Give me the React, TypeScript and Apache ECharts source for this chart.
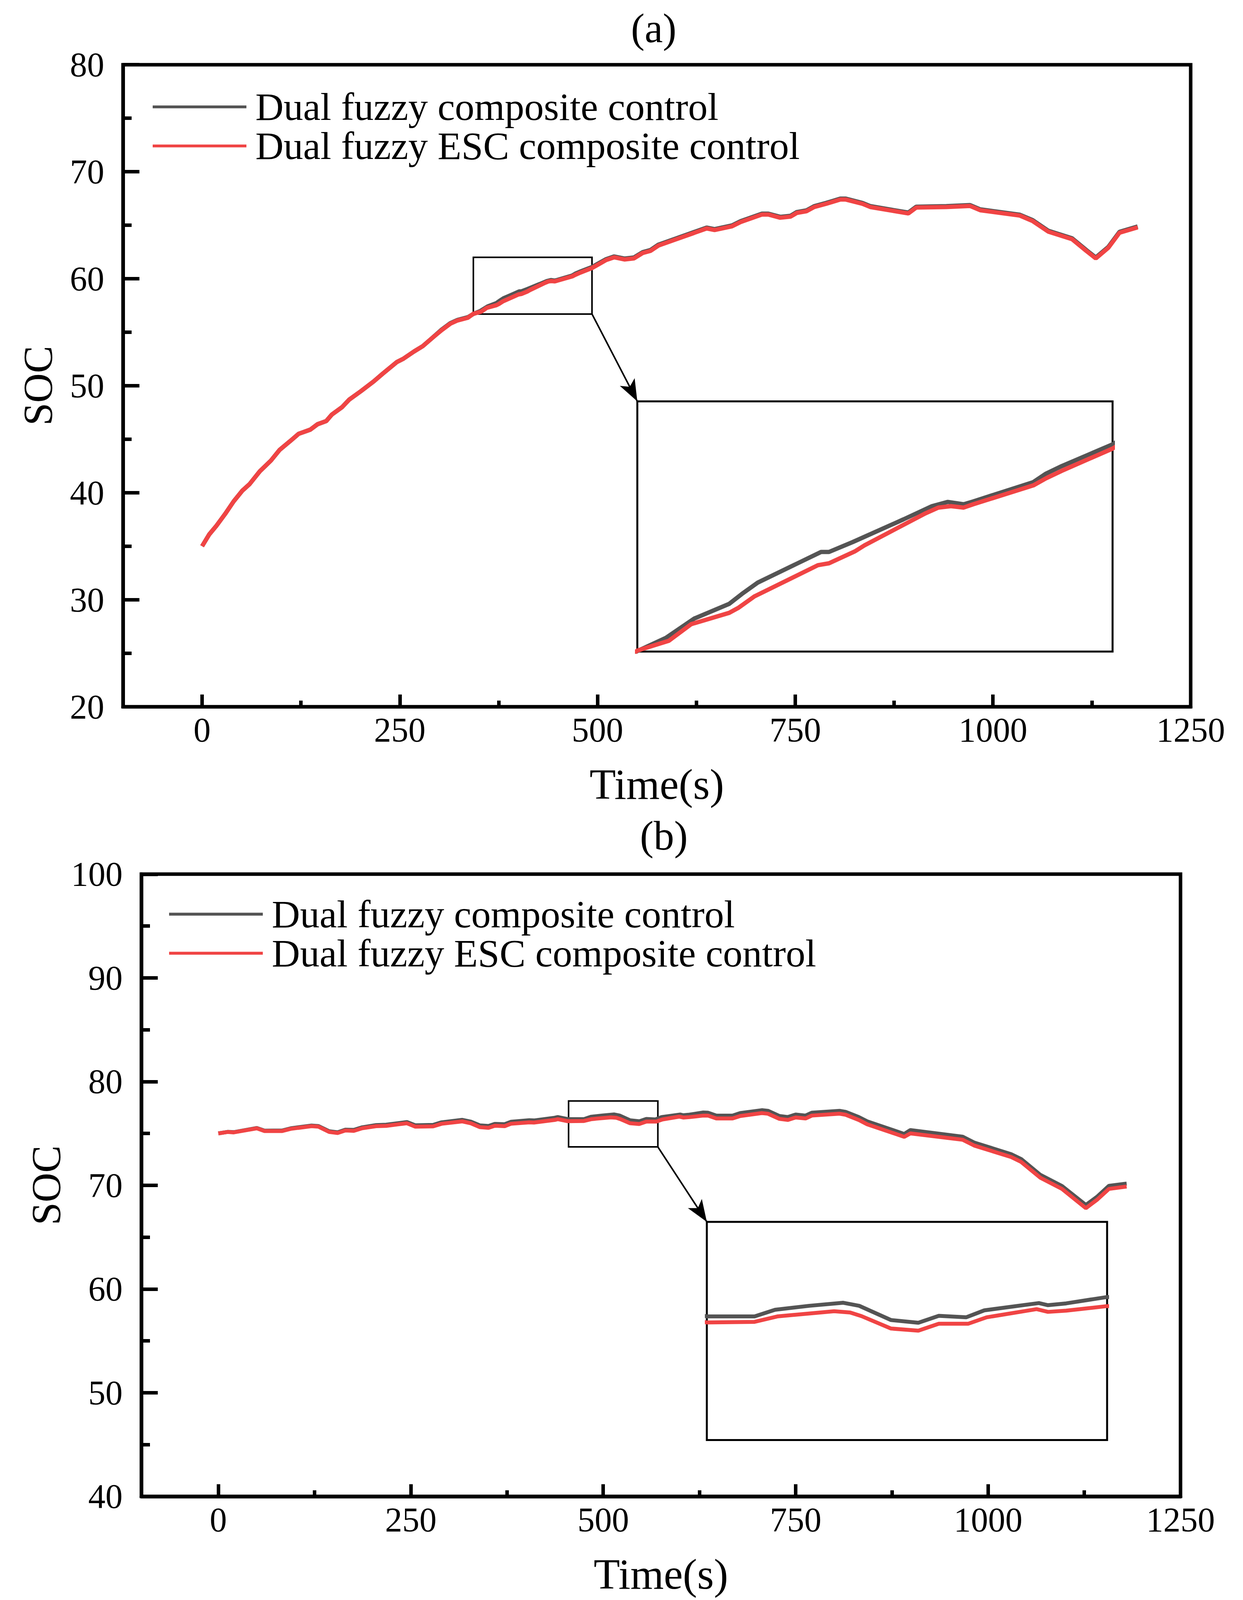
import * as echarts from "echarts";
import { useEffect, useRef } from "react";

// reference size; the layout below is written in these pixels and scaled to the viewport
const WIDTH = 3183;
const HEIGHT = 5513;
const FONT = "'Liberation Serif', 'Times New Roman', serif";

const DUAL_NAME = "Dual fuzzy composite control";
const ESC_NAME = "Dual fuzzy ESC composite control";
const DUAL_COLOR = "#545454";
const ESC_COLOR = "#f04444";

const xTicks = [0, 250, 500, 750, 1000, 1250];
const xMajorTicks = [0, 250, 500, 750, 1000];
const xMinorTicks = [125, 375, 625, 875, 1125];

// (a) time(s), SOC
const socAEsc: [number, number][] = [
  [0, 35.0], [9, 36.1], [18, 36.9], [29, 38.0], [40, 39.2], [51, 40.2], [60, 40.8], [73, 42.0],
  [87, 43.0], [98, 44.0], [111, 44.8], [122, 45.5], [137, 45.9], [146, 46.4], [157, 46.7], [164, 47.3],
  [177, 48.0], [186, 48.7], [201, 49.5], [217, 50.4], [228, 51.1], [246, 52.2], [254, 52.5], [268, 53.2],
  [279, 53.7], [290, 54.4], [303, 55.2], [314, 55.8], [323, 56.1], [336, 56.35], [343, 56.72], [353, 56.93],
  [360, 57.28], [372, 57.52], [375, 57.63], [380, 57.87], [400, 58.53], [403.5, 58.57], [411.6, 58.82],
  [414.7, 58.95], [434, 59.63], [438, 59.75], [442, 59.78], [446, 59.75], [449, 59.82], [468, 60.22],
  [472, 60.37], [477, 60.53], [493, 61.0], [511, 61.75], [521, 62.0], [534, 61.8], [546, 61.9], [557, 62.4],
  [567, 62.6], [577, 63.1], [600, 63.7], [638, 64.7], [648, 64.55], [670, 64.9], [681, 65.3], [708, 66.0],
  [716, 66.0], [731, 65.7], [744, 65.8], [752, 66.15], [764, 66.3], [774, 66.7], [789, 67.0], [807, 67.4],
  [814, 67.4], [835, 67.0], [845, 66.7], [893, 66.1], [903, 66.65], [941, 66.7], [971, 66.8], [984, 66.4],
  [1034, 65.9], [1050, 65.4], [1070, 64.4], [1100, 63.7], [1118, 62.6], [1130, 61.9], [1146, 62.9],
  [1160, 64.3], [1183, 64.8]
];

const socADual: [number, number][] = [
  [0, 35.0], [9, 36.1], [18, 36.9], [29, 38.0], [40, 39.2], [51, 40.2], [60, 40.8], [73, 42.0],
  [87, 43.0], [98, 44.0], [111, 44.8], [122, 45.5], [137, 45.9], [146, 46.4], [157, 46.7], [164, 47.3],
  [177, 48.0], [186, 48.7], [201, 49.5], [217, 50.4], [228, 51.1], [246, 52.2], [254, 52.5], [268, 53.2],
  [279, 53.7], [290, 54.4], [303, 55.25], [314, 55.85], [323, 56.15], [336, 56.4], [343, 56.71], [352, 56.99],
  [361, 57.4], [372, 57.71], [376, 57.92], [381, 58.16], [393, 58.55], [401, 58.81], [403.5, 58.81],
  [411, 59.02], [415, 59.14], [427, 59.5], [436, 59.78], [441, 59.87], [446, 59.82], [449, 59.88],
  [468, 60.29], [472, 60.47], [477, 60.63], [493, 61.09], [511, 61.83], [521, 62.08], [534, 61.88],
  [546, 61.98], [557, 62.48], [567, 62.68], [577, 63.18], [600, 63.78], [638, 64.78], [648, 64.63],
  [670, 64.98], [681, 65.38], [708, 66.08], [716, 66.08], [731, 65.78], [744, 65.88], [752, 66.23],
  [764, 66.38], [774, 66.78], [789, 67.08], [807, 67.48], [814, 67.48], [835, 67.08], [845, 66.78],
  [893, 66.18], [903, 66.73], [941, 66.78], [971, 66.88], [984, 66.48], [1034, 65.98], [1050, 65.48],
  [1070, 64.48], [1100, 63.78], [1118, 62.68], [1130, 61.98], [1146, 62.98], [1160, 64.38], [1183, 64.88]
];

// (b) time(s), SOC
const socBEsc: [number, number][] = [
  [0, 75.0], [12, 75.14], [20, 75.1], [50, 75.49], [60, 75.23], [83, 75.23], [94, 75.44], [121, 75.7],
  [130, 75.65], [144, 75.14], [155, 75.04], [165, 75.28], [176, 75.25], [187, 75.5], [205, 75.7],
  [218, 75.73], [245, 75.98], [256, 75.65], [279, 75.68], [290, 75.93], [317, 76.16], [328, 75.98],
  [340, 75.6], [351, 75.54], [359, 75.74], [372, 75.7], [380, 75.93], [404, 76.07], [410, 76.05],
  [437, 76.3], [441, 76.37], [454, 76.18], [475, 76.2], [485, 76.38], [510, 76.55], [517, 76.51],
  [522, 76.39], [535, 75.98], [547, 75.91], [556, 76.14], [569, 76.14], [577, 76.35], [599, 76.62],
  [604, 76.53], [612, 76.57], [630, 76.72], [636, 76.72], [647, 76.44], [668, 76.44], [678, 76.68],
  [706, 76.96], [714, 76.9], [729, 76.4], [740, 76.3], [750, 76.54], [763, 76.44], [771, 76.72],
  [807, 76.9], [815, 76.8], [832, 76.3], [843, 75.88], [891, 74.67], [899, 75.0], [967, 74.39],
  [982, 73.83], [1030, 72.72], [1043, 72.25], [1068, 70.72], [1096, 69.65], [1127, 67.79], [1142, 68.63],
  [1157, 69.65], [1180, 69.88]
];

const socBDual: [number, number][] = [
  [0, 75.0], [12, 75.15], [20, 75.12], [50, 75.52], [60, 75.27], [83, 75.28], [94, 75.49], [121, 75.76],
  [130, 75.71], [144, 75.21], [155, 75.11], [165, 75.36], [176, 75.34], [187, 75.59], [205, 75.8],
  [218, 75.84], [245, 76.1], [256, 75.78], [279, 75.82], [290, 76.07], [317, 76.31], [328, 76.14],
  [340, 75.77], [351, 75.72], [359, 75.92], [372, 75.89], [380, 76.12], [404, 76.27], [410, 76.25],
  [437, 76.51], [441, 76.58], [454, 76.38], [475, 76.38], [484, 76.6], [499, 76.73], [514, 76.83],
  [521, 76.73], [535, 76.26], [547, 76.17], [556, 76.4], [568, 76.35], [576, 76.58], [600, 76.82],
  [604, 76.75], [612, 76.81], [630, 77.02], [636, 77.0], [647, 76.72], [668, 76.72], [678, 76.96],
  [706, 77.24], [714, 77.18], [729, 76.68], [740, 76.58], [750, 76.82], [763, 76.72], [771, 77.0],
  [807, 77.18], [815, 77.08], [832, 76.58], [843, 76.16], [891, 74.95], [899, 75.32], [967, 74.68],
  [982, 74.12], [1030, 73.0], [1043, 72.53], [1068, 71.0], [1096, 69.93], [1127, 68.1], [1142, 68.92],
  [1157, 69.95], [1180, 70.16]
];

// zoom windows: the small box drawn on the main plot, and the range shown in the inset
const zoomBoxA = { x: [343, 493], y: [56.7, 62.0] };
const insetRangeA = { x: [343, 493], y: [56.7, 62.0] };
const zoomBoxB = { x: [455, 571], y: [73.7, 78.13] };
const insetRangeB = { x: [454, 630], y: [72.3, 79.5] };

const panels = [
  {
    title: "(a)", titleX: 1674, titleY: 98,
    grid: { left: 315, top: 223, width: 2734, height: 2212 },
    x: [-100, 1250], y: [20, 80],
    inset: { left: 1632, top: 1383, width: 1217, height: 862 },
    legend: { left: 391, top: 315, step: 128 },
    dual: socADual, esc: socAEsc, box: zoomBoxA, range: insetRangeA, lineWidth: 11
  },
  {
    title: "(b)", titleX: 1700, titleY: 2880,
    grid: { left: 362, top: 3012, width: 2661, height: 2144 },
    x: [-100, 1250], y: [40, 100],
    inset: { left: 1810, top: 4210, width: 1025, height: 752 },
    legend: { left: 433, top: 3095, step: 125 },
    dual: socBDual, esc: socBEsc, box: zoomBoxB, range: insetRangeB, lineWidth: 10
  }
];

function pxToData(p: (typeof panels)[number], px: number, py: number): [number, number] {
  const g = p.grid;
  const x = p.x[0] + ((px - g.left) / g.width) * (p.x[1] - p.x[0]);
  const y = p.y[1] - ((py - g.top) / g.height) * (p.y[1] - p.y[0]);
  return [x, y];
}

function buildOption(width: number, height: number) {
  const sx = width / WIDTH;
  const sy = height / HEIGHT;
  const X = (v: number) => v * sx;
  const Y = (v: number) => v * sy;
  // text widths follow the horizontal scale
  const F = (v: number) => Math.round(v * sx);

  const grid: any[] = [];
  const xAxis: any[] = [];
  const yAxis: any[] = [];
  const series: any[] = [];
  const legend: any[] = [];
  const graphic: any[] = [];
  const tickFont = F(88);
  const axisText = { fontFamily: FONT, fontSize: tickFont, color: "#000", formatter: (v: number) => String(v) };
  const axisWidth = 9;

  panels.forEach((p) => {
    const mainGrid = grid.length;
    grid.push({
      left: X(p.grid.left), top: Y(p.grid.top), width: X(p.grid.width), height: Y(p.grid.height),
      show: true, borderColor: "#000", borderWidth: axisWidth, backgroundColor: "transparent"
    });
    const insetGrid = grid.length;
    grid.push({
      left: X(p.inset.left), top: Y(p.inset.top), width: X(p.inset.width), height: Y(p.inset.height),
      show: true, borderColor: "#000", borderWidth: 5, backgroundColor: "#fff", z: 3
    });

    const mainX = xAxis.length;
    const nameFont = F(110);
    xAxis.push({
      type: "value", gridIndex: mainGrid, position: "bottom", min: p.x[0], max: p.x[1],
      name: "Time(s)", nameLocation: "middle", nameGap: Y(268) - nameFont / 2,
      nameTextStyle: { fontFamily: FONT, fontSize: nameFont, color: "#000" },
      axisLine: { show: true, onZero: false, lineStyle: { color: "#000", width: axisWidth } },
      axisTick: { show: true, inside: true, length: Y(42), customValues: xMajorTicks, lineStyle: { color: "#000", width: axisWidth } },
      axisLabel: { ...axisText, margin: Math.max(8, Y(80) - tickFont / 2), customValues: xTicks },
      splitLine: { show: false }
    });
    xAxis.push({
      type: "value", gridIndex: mainGrid, position: "bottom", min: p.x[0], max: p.x[1],
      axisLine: { show: false, onZero: false },
      axisTick: { show: true, inside: true, length: Y(21), customValues: xMinorTicks, lineStyle: { color: "#000", width: axisWidth } },
      axisLabel: { show: false, customValues: xMinorTicks },
      splitLine: { show: false }
    });
    const insetX = xAxis.length;
    xAxis.push({ type: "value", gridIndex: insetGrid, min: p.range.x[0], max: p.range.x[1], show: false, splitLine: { show: false } });

    const mainY = yAxis.length;
    yAxis.push({
      type: "value", gridIndex: mainGrid, position: "left", min: p.y[0], max: p.y[1], interval: 10,
      name: "SOC", nameLocation: "middle", nameGap: X(165),
      nameTextStyle: { fontFamily: FONT, fontSize: F(105), color: "#000" },
      axisLine: { show: true, onZero: false, lineStyle: { color: "#000", width: axisWidth } },
      axisTick: { show: true, inside: true, length: X(42), lineStyle: { color: "#000", width: axisWidth } },
      minorTick: { show: true, splitNumber: 2, length: X(22), lineStyle: { color: "#000", width: axisWidth } },
      axisLabel: { ...axisText, margin: X(48) },
      splitLine: { show: false },
      minorSplitLine: { show: false }
    });
    const insetY = yAxis.length;
    yAxis.push({ type: "value", gridIndex: insetGrid, min: p.range.y[0], max: p.range.y[1], show: false, splitLine: { show: false } });

    const line = (name: string, data: [number, number][], color: string, xi: number, yi: number, extra = {}) => ({
      name, type: "line", data, xAxisIndex: xi, yAxisIndex: yi,
      showSymbol: false, symbol: "none", clip: true, z: 4,
      itemStyle: { color },
      lineStyle: { color, width: p.lineWidth },
      ...extra
    });

    const corner = pxToData(p, p.inset.left, p.inset.top);
    series.push(line(DUAL_NAME, p.dual, DUAL_COLOR, mainX, mainY));
    series.push(line(ESC_NAME, p.esc, ESC_COLOR, mainX, mainY, {
      markArea: {
        silent: true,
        label: { show: false },
        itemStyle: { color: "rgba(0,0,0,0)", borderColor: "#000", borderWidth: 4 },
        data: [[{ coord: [p.box.x[0], p.box.y[1]] }, { coord: [p.box.x[1], p.box.y[0]] }]]
      },
      markLine: {
        silent: true,
        symbol: ["none", "arrow"],
        symbolSize: [32, 56],
        label: { show: false },
        lineStyle: { color: "#000", width: 4, type: "solid" },
        data: [[{ coord: [p.box.x[1], p.box.y[0]] }, { coord: corner }]]
      }
    }));
    series.push(line(DUAL_NAME, p.dual, DUAL_COLOR, insetX, insetY, { z: 5 }));
    series.push(line(ESC_NAME, p.esc, ESC_COLOR, insetX, insetY, { z: 5 }));

    const legendFont = F(100);
    const legendStep = Y(p.legend.step);
    legend.push({
      data: [DUAL_NAME, ESC_NAME],
      orient: "vertical",
      left: X(p.legend.left), top: Y(p.legend.top + 50) - legendStep / 2,
      padding: 0,
      itemWidth: X(240), itemHeight: Math.max(7, Y(10)), itemGap: 0,
      icon: "rect",
      selectedMode: false,
      textStyle: { fontFamily: FONT, fontSize: legendFont, lineHeight: legendStep, color: "#000", padding: [0, 0, 0, X(18)] }
    });

    graphic.push({
      type: "text", x: X(p.titleX), y: Y(p.titleY),
      style: { text: p.title, fontFamily: FONT, fontSize: F(105), fill: "#000", textAlign: "center", textVerticalAlign: "middle" }
    });
  });

  return { animation: false, backgroundColor: "#fff", grid, xAxis, yAxis, series, legend, graphic };
}

export default function App() {
  const ref = useRef<HTMLDivElement | null>(null);
  const width = Math.min(window.innerWidth || WIDTH, WIDTH);
  const height = Math.min(window.innerHeight || HEIGHT, HEIGHT);

  useEffect(() => {
    document.body.style.margin = "0";
    if (!ref.current) {
      return;
    }
    const chart = echarts.init(ref.current, null, { renderer: "svg", width, height });
    chart.setOption(buildOption(width, height));
    return () => {
      chart.dispose();
    };
  }, [width, height]);

  return <div ref={ref} style={{ width, height, background: "#fff" }} />;
}
